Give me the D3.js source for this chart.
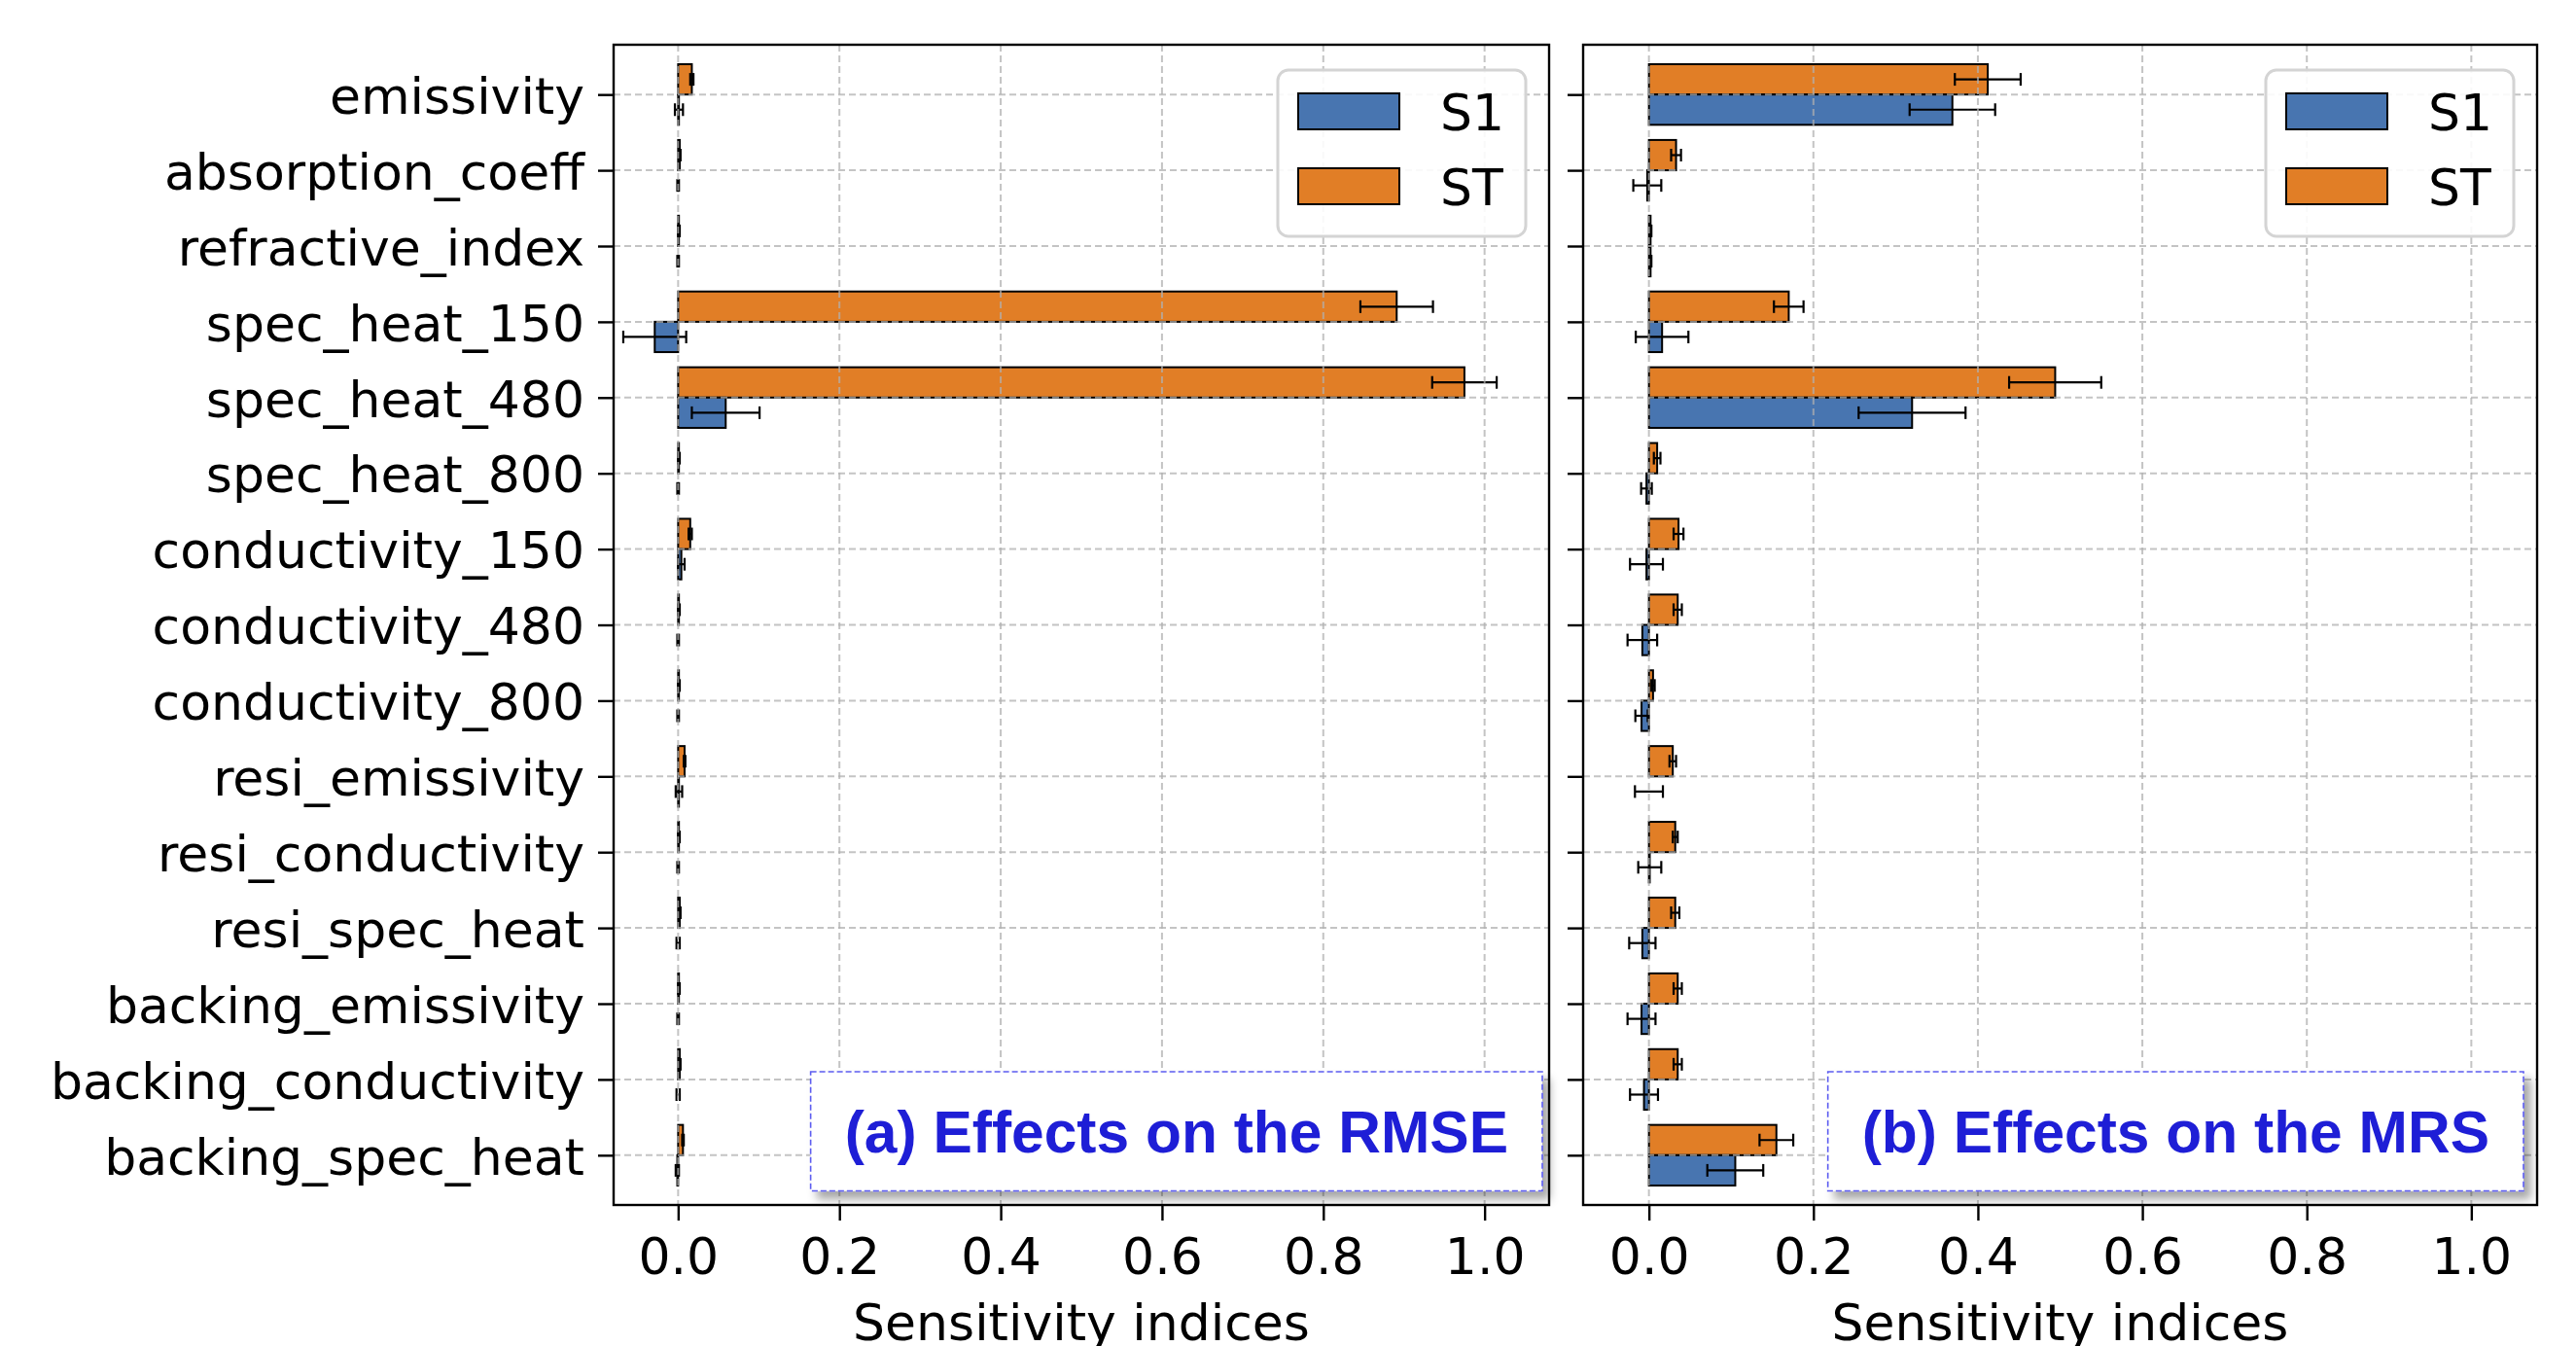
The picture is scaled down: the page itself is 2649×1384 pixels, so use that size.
<!DOCTYPE html>
<html>
<head>
<meta charset="utf-8">
<script src="https://cdn.jsdelivr.net/npm/d3@7"></script>
<style>
  body { margin: 0; background: #fff; }
  text { font-family: "DejaVu Sans", sans-serif; }
</style>
</head>
<body>
<div id="chart"></div>
<script>
// parameters, top to bottom
let categories = ['emissivity', 'absorption_coeff', 'refractive_index', 'spec_heat_150', 'spec_heat_480',
    'spec_heat_800', 'conductivity_150', 'conductivity_480', 'conductivity_800', 'resi_emissivity',
    'resi_conductivity', 'resi_spec_heat', 'backing_emissivity', 'backing_conductivity', 'backing_spec_heat'];

let seriesNames = ['S1', 'ST'];
let xTicks = [0, 0.2, 0.4, 0.6, 0.8, 1.0];

// (a) RMSE
let rmseS1     = [0.001, 0.000, 0.000, -0.029, 0.059, 0.000, 0.004, 0.000, 0.000, 0.001, 0.000, 0.000, 0.000, 0.000, -0.001];
let rmseS1Conf = [0.005, 0.001, 0.001, 0.039, 0.042, 0.001, 0.004, 0.001, 0.001, 0.004, 0.001, 0.002, 0.001, 0.002, 0.002];
let rmseST     = [0.017, 0.002, 0.001, 0.891, 0.975, 0.001, 0.015, 0.001, 0.001, 0.008, 0.001, 0.002, 0.001, 0.002, 0.006];
let rmseSTConf = [0.002, 0.001, 0.001, 0.045, 0.040, 0.001, 0.002, 0.001, 0.001, 0.001, 0.001, 0.001, 0.001, 0.001, 0.001];

// (b) MRS
let mrsS1     = [0.369, -0.002, 0.002, 0.016, 0.320, -0.003, -0.003, -0.008, -0.009, 0.000, 0.001, -0.008, -0.009, -0.006, 0.105];
let mrsS1Conf = [0.052, 0.017, 0.001, 0.032, 0.065, 0.0065, 0.020, 0.018, 0.0075, 0.017, 0.014, 0.016, 0.017, 0.017, 0.034];
let mrsST     = [0.412, 0.033, 0.002, 0.170, 0.494, 0.010, 0.036, 0.035, 0.005, 0.029, 0.032, 0.032, 0.035, 0.035, 0.155];
let mrsSTConf = [0.040, 0.006, 0.001, 0.018, 0.056, 0.004, 0.006, 0.005, 0.002, 0.004, 0.003, 0.005, 0.005, 0.005, 0.0205];

let colors = { S1: '#4875b0', ST: '#e17e26' };

var W = 2649, H = 1384;
var barH = 0.4;
var fontSize = '52px';
var svg = d3.select('#chart').append('svg').attr('width', W).attr('height', H);

var filter = svg.append('defs').append('filter').attr('id', 'shadow')
    .attr('x', '-10%').attr('y', '-20%').attr('width', '130%').attr('height', '150%');
filter.append('feDropShadow').attr('dx', 7).attr('dy', 8).attr('stdDeviation', 5)
    .attr('flood-color', '#000').attr('flood-opacity', 0.35);

function drawPanel(p) {
    var x = d3.scaleLinear().domain([-0.08, 1.08]).range([p.left, p.right]);
    var y = d3.scaleLinear().domain([-0.657, categories.length - 1 + 0.657]).range([p.top, p.bottom]);
    var g = svg.append('g');

    var bars = [];
    categories.forEach((c, i) => {
        bars.push({ v: p.st[i], e: p.stConf[i], y0: i - barH, color: colors.ST });
        bars.push({ v: p.s1[i], e: p.s1Conf[i], y0: i, color: colors.S1 });
    });

    g.selectAll('rect.bar').data(bars).join('rect').attr('class', 'bar')
        .attr('x', d => x(Math.min(0, d.v)))
        .attr('width', d => Math.abs(x(d.v) - x(0)))
        .attr('y', d => y(d.y0))
        .attr('height', y(barH) - y(0))
        .attr('fill', d => d.color)
        .attr('stroke', '#000').attr('stroke-width', 2);

    // error bars
    var eb = g.selectAll('g.err').data(bars).join('g').attr('class', 'err')
        .attr('stroke', '#000').attr('stroke-width', 2.2);
    eb.append('line')
        .attr('x1', d => x(d.v - d.e)).attr('x2', d => x(d.v + d.e))
        .attr('y1', d => y(d.y0 + barH / 2)).attr('y2', d => y(d.y0 + barH / 2));
    eb.append('line')
        .attr('x1', d => x(d.v - d.e)).attr('x2', d => x(d.v - d.e))
        .attr('y1', d => y(d.y0 + barH / 2) - 6.5).attr('y2', d => y(d.y0 + barH / 2) + 6.5);
    eb.append('line')
        .attr('x1', d => x(d.v + d.e)).attr('x2', d => x(d.v + d.e))
        .attr('y1', d => y(d.y0 + barH / 2) - 6.5).attr('y2', d => y(d.y0 + barH / 2) + 6.5);

    // grid, drawn above the bars
    var grid = g.append('g').attr('stroke', '#b0b0b0').attr('stroke-opacity', 0.75)
        .attr('stroke-width', 2).attr('stroke-dasharray', '7,4');
    grid.selectAll('line.vx').data(xTicks).join('line').attr('class', 'vx')
        .attr('x1', d => x(d)).attr('x2', d => x(d)).attr('y1', p.top).attr('y2', p.bottom);
    grid.selectAll('line.hy').data(categories).join('line').attr('class', 'hy')
        .attr('x1', p.left).attr('x2', p.right).attr('y1', (d, i) => y(i)).attr('y2', (d, i) => y(i));

    // axes
    var xAxis = g.append('g').attr('transform', 'translate(0,' + p.bottom + ')')
        .call(d3.axisBottom(x).tickValues(xTicks).tickFormat(d3.format('.1f')).tickSize(16).tickPadding(18));
    var yAxis = g.append('g').attr('transform', 'translate(' + p.left + ',0)')
        .call(d3.axisLeft(y).tickValues(d3.range(categories.length))
            .tickFormat(i => p.labels ? categories[i] : '').tickSize(16).tickPadding(14));
    [xAxis, yAxis].forEach(a => {
        a.select('.domain').remove();
        a.selectAll('.tick line').attr('stroke', '#000').attr('stroke-width', 2.4);
        a.selectAll('.tick text').attr('fill', '#000').style('font-size', fontSize)
            .style('font-family', '"DejaVu Sans", sans-serif');
    });
    yAxis.selectAll('.tick text').attr('dy', '0.37em');

    g.append('text').text('Sensitivity indices')
        .attr('x', (p.left + p.right) / 2).attr('y', 1378)
        .attr('text-anchor', 'middle').style('font-size', fontSize);

    // frame
    g.append('rect').attr('x', p.left).attr('y', p.top)
        .attr('width', p.right - p.left).attr('height', p.bottom - p.top)
        .attr('fill', 'none').attr('stroke', '#000').attr('stroke-width', 2.4);

    // legend
    var lg = g.append('g').attr('transform', 'translate(' + (p.right - 24 - 255) + ',' + (p.top + 26) + ')');
    lg.append('rect').attr('width', 255).attr('height', 171).attr('rx', 11)
        .attr('fill', '#fff').attr('fill-opacity', 0.9)
        .attr('stroke', '#d4d4d4').attr('stroke-width', 3);
    seriesNames.forEach((s, k) => {
        lg.append('rect').attr('x', 21).attr('y', 24 + k * 77).attr('width', 104).attr('height', 37)
            .attr('fill', colors[s]).attr('stroke', '#000').attr('stroke-width', 2);
        lg.append('text').attr('x', 167).attr('y', 62 + k * 77).text(s).style('font-size', fontSize);
    });

    // panel note
    var note = g.append('g');
    var box = note.append('rect');
    var txt = note.append('text').text(p.note)
        .attr('text-anchor', 'middle')
        .style('font-family', '"Liberation Sans", Arial, sans-serif')
        .style('font-weight', 'bold').style('font-size', '60.5px')
        .attr('fill', '#1e1ed6');
    var tw = txt.node().getComputedTextLength();
    var bw = tw + 70, bx = p.noteRight - bw;
    box.attr('x', bx).attr('y', 1102).attr('width', bw).attr('height', 122.5)
        .attr('fill', '#fff').attr('stroke', '#5c5cf0').attr('stroke-width', 1.6)
        .attr('stroke-dasharray', '6,3').attr('filter', 'url(#shadow)');
    txt.attr('x', bx + bw / 2).attr('y', 1185);
}

drawPanel({ left: 631, right: 1593, top: 46, bottom: 1239, labels: true,
    s1: rmseS1, s1Conf: rmseS1Conf, st: rmseST, stConf: rmseSTConf,
    note: '(a) Effects on the RMSE', noteRight: 1586 });

drawPanel({ left: 1628, right: 2609, top: 46, bottom: 1239, labels: false,
    s1: mrsS1, s1Conf: mrsS1Conf, st: mrsST, stConf: mrsSTConf,
    note: '(b) Effects on the MRS', noteRight: 2595 });
</script>
</body>
</html>
